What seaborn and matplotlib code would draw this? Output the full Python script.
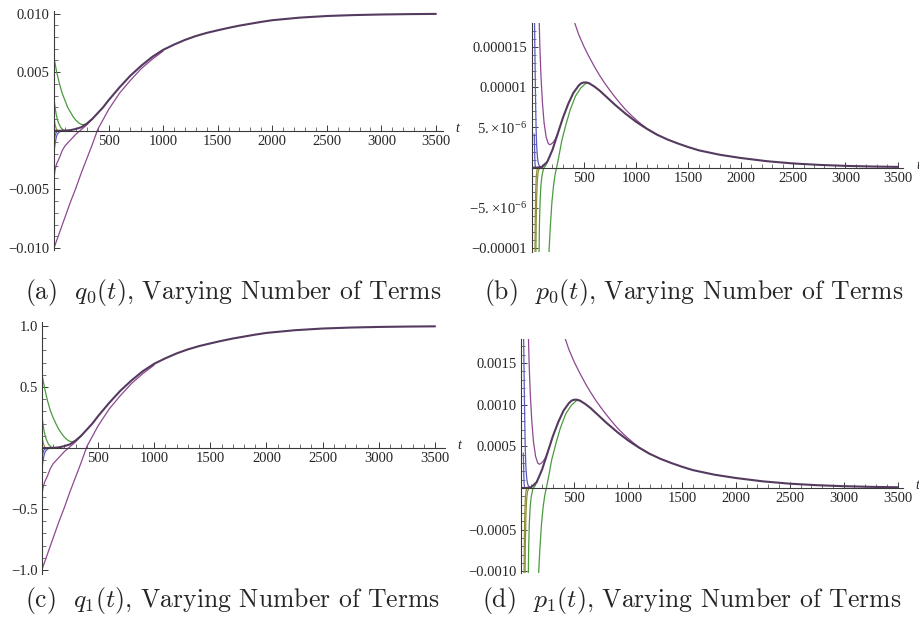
import matplotlib
matplotlib.use("Agg")
import matplotlib.pyplot as plt
import seaborn as sns

# ---- data ----
# q0(t) / q1(t) panels
t_q_main = [0, 50, 100, 150, 200, 250, 300, 350, 400, 450, 500, 600, 700, 800, 900, 1000, 1100, 1200, 1300, 1400, 1500, 1600, 1700, 1800, 1900, 2000, 2250, 2500, 2750, 3000, 3250, 3500]
q0_main = [0, 0, 0.00001, 0.00005, 0.00015, 0.0003, 0.0006, 0.001, 0.0015, 0.002, 0.0026, 0.0037, 0.0047, 0.00555, 0.0063, 0.0069, 0.00735, 0.00775, 0.00808, 0.00835, 0.00857, 0.00878, 0.00897, 0.00913, 0.00929, 0.00943, 0.00965, 0.00979, 0.00987, 0.00992, 0.00995, 0.00997]
q1_main = [0, 0, 0.001, 0.005, 0.015, 0.03, 0.06, 0.10, 0.15, 0.20, 0.26, 0.37, 0.47, 0.555, 0.63, 0.69, 0.735, 0.775, 0.808, 0.835, 0.857, 0.878, 0.897, 0.913, 0.929, 0.943, 0.965, 0.979, 0.987, 0.992, 0.995, 0.997]

t_q_green1 = [0, 25, 50, 75, 100, 125, 150, 175, 200, 225, 250, 275, 300, 325, 350]
q0_green1 = [0.0062, 0.0050, 0.0040, 0.0032, 0.0026, 0.0020, 0.0016, 0.0012, 0.0009, 0.00068, 0.00054, 0.00052, 0.0006, 0.0008, 0.001]
q1_green1 = [0.61, 0.49, 0.39, 0.31, 0.25, 0.20, 0.155, 0.12, 0.09, 0.068, 0.054, 0.052, 0.06, 0.08, 0.10]

t_q_green2 = [0, 10, 20, 30, 40, 60, 80, 100]
q0_green2 = [0.0027, 0.0020, 0.0014, 0.0010, 0.0007, 0.0003, 0.0001, 0.0]
q1_green2 = [0.27, 0.20, 0.14, 0.10, 0.07, 0.03, 0.01, 0.0]

t_q_olive = [0, 5, 10, 20, 30]
q0_olive = [0.0013, 0.0008, 0.0005, 0.0002, 0.0]
q1_olive = [0.13, 0.08, 0.05, 0.02, 0.0]

t_q_blue1 = [0, 10, 20, 30, 50, 70]
q0_blue1 = [-0.0018, -0.0011, -0.0006, -0.0003, -0.0001, 0.0]
q1_blue1 = [-0.18, -0.11, -0.06, -0.03, -0.01, 0.0]

t_q_blue2 = [0, 10, 20, 40]
q0_blue2 = [-0.0009, -0.0004, -0.00015, 0.0]
q1_blue2 = [-0.09, -0.04, -0.015, 0.0]

t_q_purple1 = [0, 10, 25, 50, 75, 100, 150, 200, 250, 300, 350]
q0_purple1 = [-0.0040, -0.0033, -0.0028, -0.0023, -0.0017, -0.0013, -0.0008, -0.0003, 0.0001, 0.0005, 0.001]
q1_purple1 = [-0.40, -0.33, -0.28, -0.23, -0.17, -0.13, -0.08, -0.03, 0.01, 0.05, 0.10]

t_q_purple2 = [0, 50, 100, 150, 200, 250, 300, 350, 400, 500, 600, 700, 800, 900, 1000]
q0_purple2 = [-0.0100, -0.0087, -0.0074, -0.0061, -0.0049, -0.0036, -0.0024, -0.0012, 0.0001, 0.0018, 0.0032, 0.0043, 0.0053, 0.0061, 0.0068]
q1_purple2 = [-1.00, -0.87, -0.74, -0.61, -0.49, -0.36, -0.24, -0.12, 0.01, 0.18, 0.32, 0.43, 0.53, 0.61, 0.68]

# p0(t) / p1(t) panels
t_p_main = [0, 50, 100, 150, 200, 250, 300, 350, 400, 450, 475, 500, 525, 550, 600, 650, 700, 750, 800, 900, 1000, 1100, 1200, 1300, 1400, 1500, 1600, 1800, 2000, 2250, 2500, 2750, 3000, 3250, 3500]
p0_main = [0.0, 0.0, 0.1e-6, 0.7e-6, 2.2e-6, 4.2e-6, 6.2e-6, 7.9e-6, 9.3e-6, 10.2e-6, 10.5e-6, 10.6e-6, 10.6e-6, 10.5e-6, 10.1e-6, 9.6e-6, 9.0e-6, 8.4e-6, 7.8e-6, 6.7e-6, 5.7e-6, 4.85e-6, 4.1e-6, 3.5e-6, 3.0e-6, 2.55e-6, 2.15e-6, 1.6e-6, 1.2e-6, 0.8e-6, 0.52e-6, 0.34e-6, 0.22e-6, 0.14e-6, 0.09e-6]
p1_main = [0.0, 0.0, 0.1e-4, 0.7e-4, 2.2e-4, 4.2e-4, 6.2e-4, 7.9e-4, 9.3e-4, 10.2e-4, 10.5e-4, 10.6e-4, 10.6e-4, 10.5e-4, 10.1e-4, 9.6e-4, 9.0e-4, 8.4e-4, 7.8e-4, 6.7e-4, 5.7e-4, 4.85e-4, 4.1e-4, 3.5e-4, 3.0e-4, 2.55e-4, 2.15e-4, 1.6e-4, 1.2e-4, 0.8e-4, 0.52e-4, 0.34e-4, 0.22e-4, 0.14e-4, 0.09e-4]

t_p_purple1 = [405, 450, 500, 550, 600, 650, 700, 750, 800, 850, 900, 950, 1000, 1050, 1100, 1150, 1200]
p0_purple1 = [18.3e-6, 16.6e-6, 15.1e-6, 13.8e-6, 12.6e-6, 11.5e-6, 10.5e-6, 9.6e-6, 8.75e-6, 7.95e-6, 7.2e-6, 6.55e-6, 5.95e-6, 5.4e-6, 4.9e-6, 4.45e-6, 4.1e-6]
p1_purple1 = [18.3e-4, 16.6e-4, 15.1e-4, 13.8e-4, 12.6e-4, 11.5e-4, 10.5e-4, 9.6e-4, 8.75e-4, 7.95e-4, 7.2e-4, 6.55e-4, 5.95e-4, 5.4e-4, 4.9e-4, 4.45e-4, 4.1e-4]

t_p_purple2 = [72, 80, 90, 105, 120, 140, 160, 175, 190, 210, 230, 250]
p0_purple2 = [19e-6, 15e-6, 11.5e-6, 8.0e-6, 5.6e-6, 3.8e-6, 3.0e-6, 2.85e-6, 2.95e-6, 3.2e-6, 3.6e-6, 4.2e-6]
p1_purple2 = [19e-4, 15e-4, 11.5e-4, 8.0e-4, 5.6e-4, 3.8e-4, 3.0e-4, 2.85e-4, 2.95e-4, 3.2e-4, 3.6e-4, 4.2e-4]

t_p_blue1 = [28, 32, 36, 40, 44, 50, 58, 68, 85]
p0_blue1 = [19e-6, 15e-6, 11e-6, 7.5e-6, 4.8e-6, 2.5e-6, 1.1e-6, 0.4e-6, 0.05e-6]
p1_blue1 = [19e-4, 15e-4, 11e-4, 7.5e-4, 4.8e-4, 2.5e-4, 1.1e-4, 0.4e-4, 0.05e-4]

t_p_blue2 = [26, 28, 30, 33, 38]
p0_blue2 = [4.2e-6, 3.5e-6, 2.0e-6, 0.6e-6, 0.0]
p1_blue2 = [4.2e-4, 3.5e-4, 2.0e-4, 0.6e-4, 0.0]

t_p_olive1 = [33, 36, 40, 45, 52, 60]
p0_olive1 = [-10.8e-6, -6e-6, -3e-6, -1.2e-6, -0.3e-6, 0.0]
p1_olive1 = [-10.8e-4, -6e-4, -3e-4, -1.2e-4, -0.3e-4, 0.0]

t_p_olive2 = [42, 45, 50, 56, 65, 80]
p0_olive2 = [-10.8e-6, -6.5e-6, -3.5e-6, -1.5e-6, -0.4e-6, 0.0]
p1_olive2 = [-10.8e-4, -6.5e-4, -3.5e-4, -1.5e-4, -0.4e-4, 0.0]

t_p_green2 = [72, 76, 82, 90, 100, 115, 135, 155]
p0_green2 = [-10.8e-6, -7.0e-6, -4.2e-6, -2.2e-6, -1.0e-6, -0.1e-6, 0.25e-6, 0.9e-6]
p1_green2 = [-10.8e-4, -7.0e-4, -4.2e-4, -2.2e-4, -1.0e-4, -0.1e-4, 0.25e-4, 0.9e-4]

t_p_green3 = [166, 180, 195, 210, 225, 240, 260, 290, 330, 370, 420, 470, 520, 560]
p0_green3 = [-10.8e-6, -7.3e-6, -4.3e-6, -2.3e-6, -0.9e-6, 0.0, 1.3e-6, 3.4e-6, 5.4e-6, 7.2e-6, 8.9e-6, 9.9e-6, 10.5e-6, 10.5e-6]
p1_green3 = [-10.8e-4, -7.3e-4, -4.3e-4, -2.3e-4, -0.9e-4, 0.0, 1.3e-4, 3.4e-4, 5.4e-4, 7.2e-4, 8.9e-4, 9.9e-4, 10.5e-4, 10.5e-4]

x_major = [500, 1000, 1500, 2000, 2500, 3000, 3500]
x_minor = [v for v in range(100, 3600, 100) if v % 500 != 0]

captions = [r"(a)  $q_0(t)$, Varying Number of Terms",
            r"(b)  $p_0(t)$, Varying Number of Terms",
            r"(c)  $q_1(t)$, Varying Number of Terms",
            r"(d)  $p_1(t)$, Varying Number of Terms"]

# colours (Mathematica style)
purple = '#8e4892'
blue = '#5b5bbf'
green = '#4a9a3e'
olive = '#8e8e38'
dark = '#553a60'

sns.set_style("white")
plt.rcParams['font.family'] = ['Liberation Serif', 'DejaVu Serif']
plt.rcParams['mathtext.fontset'] = 'cm'

W, H = 920, 628
fig = plt.figure(figsize=(W / 100, H / 100), dpi=100)


def px_axes(left, right, top, bottom):
    return fig.add_axes([left / W, 1 - bottom / H, (right - left) / W, (bottom - top) / H])


def style(ax, xmax, ylim, yticks, ylabels, yminor):
    ax.set_xlim(0, xmax)
    ax.set_ylim(*ylim)
    ax.spines['top'].set_visible(False)
    ax.spines['right'].set_visible(False)
    for s in ['left', 'bottom']:
        ax.spines[s].set_position(('data', 0))
        ax.spines[s].set_color('#3a3a3a')
        ax.spines[s].set_linewidth(0.8)
    ax.set_xticks(x_major)
    ax.set_xticklabels([str(v) for v in x_major])
    ax.set_xticks(x_minor, minor=True)
    ax.set_yticks(yticks)
    ax.set_yticklabels(ylabels)
    ax.set_yticks(yminor, minor=True)
    ax.tick_params(which='both', bottom=True, left=True, top=False, right=False)
    ax.tick_params(which='major', direction='in', length=4.5, width=0.7, color='#3a3a3a', labelsize=10.5, pad=3)
    ax.tick_params(which='minor', direction='in', length=2.6, width=0.5, color='#3a3a3a')
    ax.set_xlabel('')
    ax.set_ylabel('')
    ax.annotate('t', xy=(xmax, 0), xytext=(9, 1.5), textcoords='offset points',
                fontsize=10, style='italic', va='center', ha='left', annotation_clip=False)


def draw(ax, curves, main_t, main_v):
    for t, v, c in curves:
        sns.lineplot(x=t, y=v, ax=ax, color=c, linewidth=0.9, estimator=None, sort=False)
    sns.lineplot(x=main_t, y=main_v, ax=ax, color=dark, linewidth=1.5, estimator=None, sort=False)


# (a)
ax = px_axes(54, 443, 11.2, 250.3)
draw(ax, [(t_q_purple2, q0_purple2, purple), (t_q_purple1, q0_purple1, purple),
          (t_q_blue1, q0_blue1, blue), (t_q_blue2, q0_blue2, blue),
          (t_q_olive, q0_olive, olive), (t_q_green2, q0_green2, green),
          (t_q_green1, q0_green1, green)], t_q_main, q0_main)
style(ax, 3565, (-0.0102, 0.0102), [-0.01, -0.005, 0.005, 0.01],
      ['\u22120.010', '\u22120.005', '0.005', '0.010'],
      [v / 1000 for v in range(-10, 11) if v % 5 != 0])

# (b)
ax = px_axes(531.5, 903.5, 23, 252)
draw(ax, [(t_p_purple1, p0_purple1, purple), (t_p_purple2, p0_purple2, purple),
          (t_p_blue1, p0_blue1, blue), (t_p_blue2, p0_blue2, blue),
          (t_p_olive1, p0_olive1, olive), (t_p_olive2, p0_olive2, olive),
          (t_p_green2, p0_green2, green), (t_p_green3, p0_green3, green)], t_p_main, p0_main)
style(ax, 3555, (-1.05e-5, 1.8e-5), [-1e-5, -5e-6, 5e-6, 1e-5, 1.5e-5],
      ['\u22120.00001', r'$\mathdefault{-5.\!\times\!10^{-6}}$', r'$\mathdefault{5.\!\times\!10^{-6}}$', '0.00001', '0.000015'],
      [v * 1e-6 for v in range(-10, 18) if v % 5 != 0])

# (c)
ax = px_axes(41.8, 445, 322.3, 573.7)
draw(ax, [(t_q_purple2, q1_purple2, purple), (t_q_purple1, q1_purple1, purple),
          (t_q_blue1, q1_blue1, blue), (t_q_blue2, q1_blue2, blue),
          (t_q_olive, q1_olive, olive), (t_q_green2, q1_green2, green),
          (t_q_green1, q1_green1, green)], t_q_main, q1_main)
style(ax, 3589, (-1.03, 1.03), [-1.0, -0.5, 0.5, 1.0],
      ['\u22121.0', '\u22120.5', '0.5', '1.0'],
      [v / 10 for v in range(-10, 11) if v % 5 != 0])

# (d)
ax = px_axes(520.5, 903, 339.3, 573)
draw(ax, [(t_p_purple1, p1_purple1, purple), (t_p_purple2, p1_purple2, purple),
          (t_p_blue1, p1_blue1, blue), (t_p_blue2, p1_blue2, blue),
          (t_p_olive1, p1_olive1, olive), (t_p_olive2, p1_olive2, olive),
          (t_p_green2, p1_green2, green), (t_p_green3, p1_green3, green)], t_p_main, p1_main)
style(ax, 3551, (-0.00102, 0.001785), [-0.001, -0.0005, 0.0005, 0.001, 0.0015],
      ['\u22120.0010', '\u22120.0005', '0.0005', '0.0010', '0.0015'],
      [v * 1e-4 for v in range(-10, 18) if v % 5 != 0])

# captions
for (cx, cy), txt in zip([(233, 292), (694, 292), (233, 600), (692, 600)], captions):
    fig.text(cx / W, 1 - cy / H, txt, ha='center', va='center', fontsize=18.5, fontfamily='cmr10')

fig.savefig('out.png', dpi=100)
